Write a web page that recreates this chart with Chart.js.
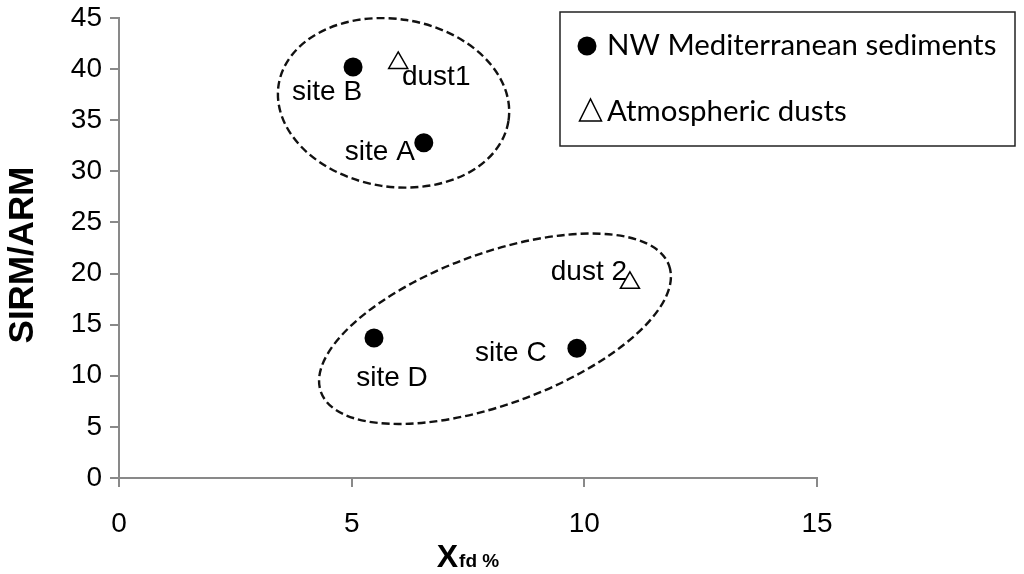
<!DOCTYPE html>
<html>
<head>
<meta charset="utf-8">
<script src="https://cdn.jsdelivr.net/npm/chart.js@4.4.1/dist/chart.umd.min.js"></script>
<style>
  body { margin: 0; background: #fff; }
  canvas { display: block; }
</style>
</head>
<body>
<canvas id="chart" width="1024" height="574"></canvas>
<script>
// data
const sedimentNames = ['site A', 'site B', 'site C', 'site D'];
const sedimentX = [6.55, 5.03, 9.84, 5.48];
const sedimentY = [32.8, 40.2, 12.7, 13.7];

const dustNames = ['dust1', 'dust 2'];
const dustX = [6.0, 10.98];
const dustY = [40.6, 19.1];

const xTicks = [0, 5, 10, 15];
const yTicks = [0, 5, 10, 15, 20, 25, 30, 35, 40, 45];

// group outlines, in data units (centre, semi axes, tilt in degrees)
const groups = [
    { cx: 5.9, cy: 36.7, rx: 2.5, ry: 8.2, tilt: 9 },
    { cx: 8.08, cy: 14.6, rx: 3.98, ry: 7.4, tilt: -20 }
];

// label offsets in pixels from each point
const sedimentLabelOffset = [[-44, 10], [-26, 25], [-66, 5], [18, 40]];
const dustLabelOffset = [[38, 14], [-41, -10]];

const AXIS_GREY = '#898989';
const SANS = '"Liberation Sans", Arial, sans-serif';

const overlay = {
    id: 'overlay',
    beforeDatasetsDraw(chart) {
        const ctx = chart.ctx, xs = chart.scales.x, ys = chart.scales.y;
        const pxX = xs.getPixelForValue(1) - xs.getPixelForValue(0);
        const pxY = Math.abs(ys.getPixelForValue(1) - ys.getPixelForValue(0));
        ctx.save();
        ctx.strokeStyle = '#111';
        ctx.lineWidth = 2.4;
        ctx.setLineDash([8, 4]);
        groups.forEach(g => {
            ctx.beginPath();
            ctx.ellipse(xs.getPixelForValue(g.cx), ys.getPixelForValue(g.cy),
                g.rx * pxX, g.ry * pxY, g.tilt * Math.PI / 180, 0, Math.PI * 2);
            ctx.stroke();
        });
        ctx.restore();
    },
    afterDatasetsDraw(chart) {
        const ctx = chart.ctx, xs = chart.scales.x, ys = chart.scales.y;
        ctx.save();
        ctx.fillStyle = '#000';
        ctx.font = '28px ' + SANS;
        ctx.textAlign = 'center';
        ctx.textBaseline = 'middle';
        sedimentNames.forEach((n, i) => {
            ctx.fillText(n, xs.getPixelForValue(sedimentX[i]) + sedimentLabelOffset[i][0],
                ys.getPixelForValue(sedimentY[i]) + sedimentLabelOffset[i][1]);
        });
        dustNames.forEach((n, i) => {
            ctx.fillText(n, xs.getPixelForValue(dustX[i]) + dustLabelOffset[i][0],
                ys.getPixelForValue(dustY[i]) + dustLabelOffset[i][1]);
        });
        ctx.restore();
    },
    afterDraw(chart) {
        const ctx = chart.ctx, area = chart.chartArea;
        ctx.save();

        // y title
        ctx.fillStyle = '#000';
        ctx.font = 'bold 35px ' + SANS;
        ctx.textAlign = 'center';
        ctx.textBaseline = 'alphabetic';
        ctx.translate(33, 255);
        ctx.rotate(-Math.PI / 2);
        ctx.fillText('SIRM/ARM', 0, 0);
        ctx.setTransform(1, 0, 0, 1, 0, 0);

        // x title: X with subscript fd %
        ctx.textAlign = 'left';
        ctx.font = 'bold 32px ' + SANS;
        const wBig = ctx.measureText('X').width;
        ctx.font = 'bold 19px ' + SANS;
        const wSub = ctx.measureText('fd %').width;
        const x0 = (area.left + area.right) / 2 - (wBig + 1 + wSub) / 2;
        ctx.font = 'bold 32px ' + SANS;
        ctx.fillText('X', x0, 567);
        ctx.font = 'bold 19px ' + SANS;
        ctx.fillText('fd %', x0 + wBig + 1, 567);

        // legend box
        ctx.strokeStyle = '#222';
        ctx.lineWidth = 1.5;
        ctx.strokeRect(560, 12, 455, 134);
        ctx.fillStyle = '#000';
        ctx.beginPath();
        ctx.arc(587, 46, 9.5, 0, Math.PI * 2);
        ctx.fill();
        ctx.strokeStyle = '#000';
        ctx.lineWidth = 1.5;
        ctx.beginPath();
        ctx.moveTo(579.5, 121);
        ctx.lineTo(601.5, 121);
        ctx.lineTo(590.5, 99);
        ctx.closePath();
        ctx.stroke();

        let size = 30;
        ctx.font = size + 'px Lato, "Open Sans", sans-serif';
        size = size * 390 / ctx.measureText('NW Mediterranean sediments').width;
        ctx.font = size.toFixed(1) + 'px Lato, "Open Sans", sans-serif';
        ctx.fillText('NW Mediterranean sediments', 607, 55);
        ctx.fillText('Atmospheric dusts', 607, 121);
        ctx.restore();
    }
};

function buildAxis(min, max, ticks, fitKey, fitSize, pad) {
    return {
        type: 'linear',
        min: min,
        max: max,
        afterBuildTicks: s => { s.ticks = ticks.map(v => ({ value: v })); },
        afterFit: s => {
            s[fitKey] = fitSize;
            s.paddingTop = 0; s.paddingBottom = 0;
            s.paddingLeft = 0; s.paddingRight = 0;
        },
        ticks: { color: '#000', font: { family: SANS, size: 28 }, padding: pad },
        grid: { drawOnChartArea: false, drawTicks: true, tickLength: 9, color: AXIS_GREY, lineWidth: 2 },
        border: { color: AXIS_GREY, width: 2 }
    };
}

new Chart(document.getElementById('chart'), {
    type: 'scatter',
    data: {
        datasets: [
            {
                label: 'NW Mediterranean sediments',
                data: sedimentX.map((x, i) => ({ x: x, y: sedimentY[i] })),
                pointStyle: 'circle',
                pointRadius: 9.5,
                backgroundColor: '#000',
                borderWidth: 0
            },
            {
                label: 'Atmospheric dusts',
                data: dustX.map((x, i) => ({ x: x, y: dustY[i] })),
                pointStyle: 'triangle',
                pointRadius: 11,
                backgroundColor: '#fff',
                borderColor: '#000',
                borderWidth: 1.5
            }
        ]
    },
    options: {
        responsive: false,
        animation: false,
        layout: { padding: { top: 18, right: 207, left: 0, bottom: 0 } },
        plugins: { legend: { display: false }, tooltip: { enabled: false } },
        scales: {
            x: buildAxis(0, 15, xTicks, 'height', 96, 20),
            y: buildAxis(0, 45, yTicks, 'width', 119, 8)
        }
    },
    plugins: [overlay]
});
</script>
</body>
</html>
